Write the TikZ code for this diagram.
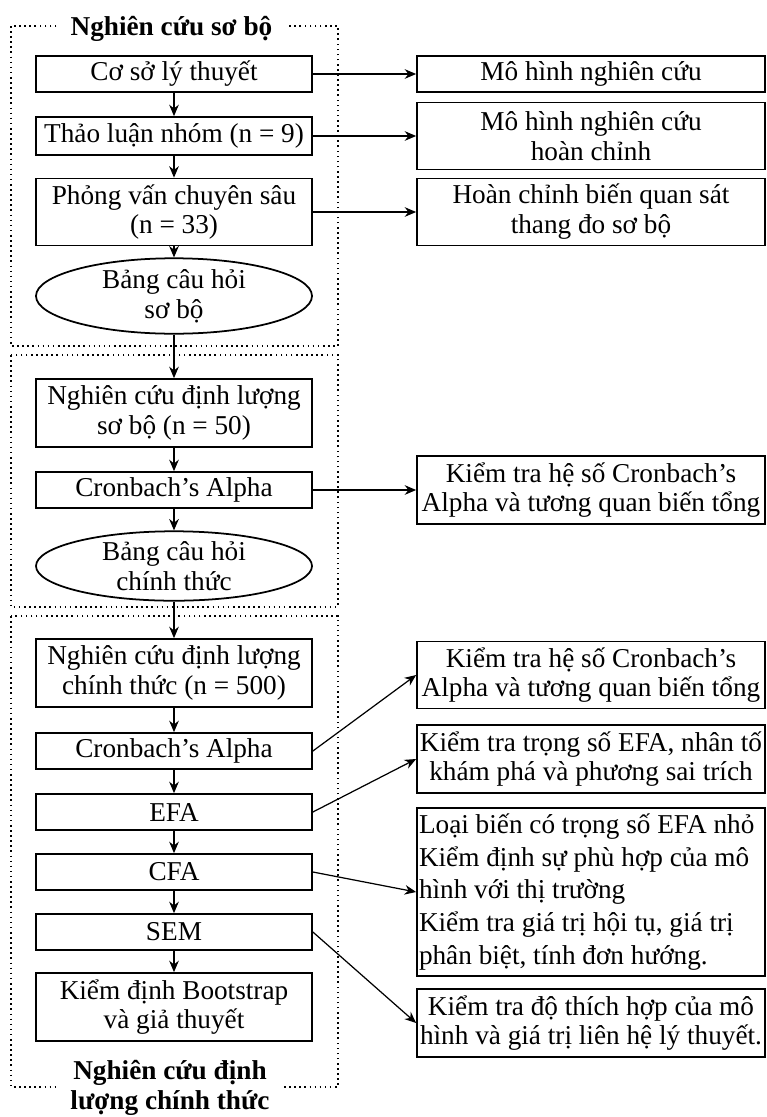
\documentclass[tikz,border=0pt]{standalone}
\usepackage{fontspec}
\setmainfont{Liberation Serif}
\usepackage{tikz}
\usetikzlibrary{shapes.geometric,arrows.meta}

\begin{document}
\begin{tikzpicture}[
  every node/.style={font=\fontsize{15.5}{17}\selectfont},
  leftbox/.style={draw, line width=1pt, minimum width=5.52cm, minimum height=0.72cm, inner sep=1.5pt, align=center},
  rightbox/.style={draw, line width=1pt, minimum width=6.96cm, minimum height=0.72cm, inner sep=1.5pt, align=center},
  oval/.style={draw, ellipse, line width=1pt, minimum width=5.52cm, minimum height=1.36cm, inner sep=0pt, align=center},
  phase/.style={dotted, line width=0.9pt},
  phasetitle/.style={fill=white, font=\fontsize{15.5}{17}\selectfont\bfseries, align=center, inner xsep=8pt, inner ysep=1pt},
  arr/.style={-{Stealth[length=6.5pt,width=5.5pt]}, line width=0.7pt}]
  \useasboundingbox (0,0) rectangle (15.32,-22.34);

  % three phases
  \draw[phase] (0.22,-0.52) rectangle (6.76,-6.92);
  \draw[phase] (0.22,-7.10) rectangle (6.76,-12.14);
  \draw[phase] (0.22,-12.32) rectangle (6.76,-21.74);
  \node[phasetitle] (t1) at (3.43,-0.58) {Nghiên cứu sơ bộ};
  \node[phasetitle] (t3) at (3.40,-21.76) {Nghiên cứu định\\lượng chính thức};

  % left column
  \node[leftbox] (b1) at (3.48,-1.48) {Cơ sở lý thuyết};
  \node[leftbox, minimum height=0.76cm] (b2) at (3.48,-2.72) {Thảo luận nhóm (n = 9)};
  \node[leftbox, minimum height=1.34cm] (b3) at (3.48,-4.24) {Phỏng vấn chuyên sâu\\(n = 33)};
  \node[oval] (e1) at (3.48,-5.92) {Bảng câu hỏi\\sơ bộ};
  \node[leftbox, minimum height=1.36cm] (b5) at (3.48,-8.26) {Nghiên cứu định lượng\\sơ bộ (n = 50)};
  \node[leftbox] (b6) at (3.48,-9.80) {Cronbach’s Alpha};
  \node[oval] (e2) at (3.48,-11.32) {Bảng câu hỏi\\chính thức};
  \node[leftbox, minimum height=1.36cm] (b8) at (3.48,-13.46) {Nghiên cứu định lượng\\chính thức (n = 500)};
  \node[leftbox] (b9) at (3.48,-15.02) {Cronbach’s Alpha};
  \node[leftbox] (b10) at (3.48,-16.24) {EFA};
  \node[leftbox] (b11) at (3.48,-17.44) {CFA};
  \node[leftbox] (b12) at (3.48,-18.64) {SEM};
  \node[leftbox, minimum height=1.36cm] (b13) at (3.48,-20.14) {Kiểm định Bootstrap\\và giả thuyết};

  % right column
  \node[rightbox] (r1) at (11.82,-1.48) {Mô hình nghiên cứu};
  \node[rightbox, minimum height=1.34cm] (r2) at (11.82,-2.72) {Mô hình nghiên cứu\\hoàn chỉnh};
  \node[rightbox, minimum height=1.34cm] (r3) at (11.82,-4.24) {Hoàn chỉnh biến quan sát\\thang đo sơ bộ};
  \node[rightbox, minimum height=1.36cm] (r4) at (11.82,-9.80) {Kiểm tra hệ số Cronbach’s\\Alpha và tương quan biến tổng};
  \node[rightbox, minimum height=1.34cm] (r5) at (11.82,-13.50) {Kiểm tra hệ số Cronbach’s\\Alpha và tương quan biến tổng};
  \node[rightbox, minimum height=1.36cm] (r6) at (11.82,-15.18) {Kiểm tra trọng số EFA, nhân tố\\khám phá và phương sai trích};
  \node[rightbox, minimum height=3.36cm, text width=6.88cm, align=flush left, inner xsep=1pt,
    font={\fontsize{15.5}{18.7}\selectfont\parindent=0pt}] (r7) at (11.82,-17.84)
    {Loại biến có trọng số EFA nhỏ\\Kiểm định sự phù hợp của mô\\hình với thị trường\\Kiểm tra giá trị hội tụ, giá trị\\phân biệt, tính đơn hướng.};
  \node[rightbox, minimum height=1.36cm] (r8) at (11.82,-20.46) {Kiểm tra độ thích hợp của mô\\hình và giá trị liên hệ lý thuyết.};

  % flow
  \draw[arr] (b1) -- (b2);
  \draw[arr] (b2) -- (b3);
  \draw[arr] (b3) -- (e1);
  \draw[arr] (e1) -- (b5);
  \draw[arr] (b5) -- (b6);
  \draw[arr] (b6) -- (e2);
  \draw[arr] (e2) -- (b8);
  \draw[arr] (b8) -- (b9);
  \draw[arr] (b9) -- (b10);
  \draw[arr] (b10) -- (b11);
  \draw[arr] (b11) -- (b12);
  \draw[arr] (b12) -- (b13);

  \draw[arr] (b1) -- (r1);
  \draw[arr] (b2) -- (r2);
  \draw[arr] (b3) -- (r3);
  \draw[arr] (b6) -- (r4);
  \draw[arr] (b9.east) -- (r5.west);
  \draw[arr] (b10.east) -- (r6.west);
  \draw[arr] (b11.east) -- (r7.west);
  \draw[arr] (b12.east) -- (r8.west);
\end{tikzpicture}
\end{document}
